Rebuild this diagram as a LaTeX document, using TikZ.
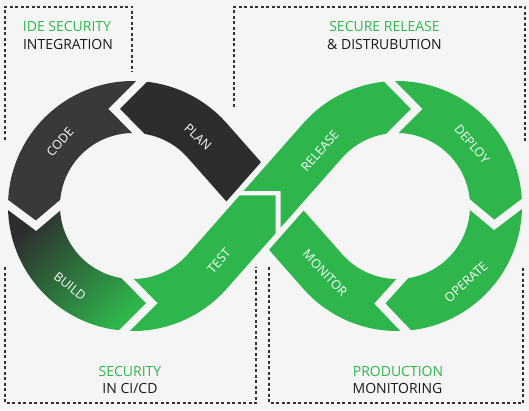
\documentclass[tikz,border=0pt]{standalone}
\usepackage{fontspec}
\setmainfont{Open Sans}
\usetikzlibrary{calc}
\definecolor{bg}{HTML}{F5F5F5}
\definecolor{grn}{HTML}{2EB64C}
\definecolor{dkA}{HTML}{2D2D2D}
\definecolor{dkB}{HTML}{39393B}
\definecolor{ink}{HTML}{1A1A1A}
\definecolor{dashc}{HTML}{333333}
\begin{document}
\begin{tikzpicture}[x=1pt,y=1pt,
  sepline/.style={draw=bg, line width=8pt, shorten <=-12pt, shorten >=-12pt, line join=miter},
  lbl/.style={text=white, inner sep=0pt, font=\fontsize{12.5}{13}\selectfont},
  ttl/.style={text=grn, anchor=base, inner sep=0pt, font=\fontsize{14}{16}\selectfont},
  sub/.style={text=ink, anchor=base, inner sep=0pt, font=\fontsize{14}{16}\selectfont},
  boxline/.style={draw=dashc, line width=1.2pt, dash pattern=on 3pt off 2.5pt}]

\fill[bg] (0,0) rectangle (529,410);
\useasboundingbox (0,0) rectangle (529,410);

\coordinate (L) at (133,204);
\coordinate (R) at (397,204);
\coordinate (C) at (265,204);

% cap lines at the crossing
\coordinate (capP1) at ($(C)+(138.59:32)$);
\coordinate (capP2) at ($(capP1)+(48.59:60)$);
\coordinate (capM1) at ($(C)+(-41.41:32)$);
\coordinate (capM2) at ($(capM1)+(48.59:60)$);

% PLAN strip edges
\coordinate (Lo) at ($(L)+(41.41:125)$);
\coordinate (Lo2) at ($(Lo)+(-48.59:120)$);
\coordinate (Li) at ($(L)+(41.41:73)$);
\coordinate (Li2) at ($(Li)+(-48.59:120)$);

% TEST strip edges
\coordinate (To) at ($(L)+(-41.41:125)$);
\coordinate (To2) at ($(To)+(48.59:150)$);
\coordinate (Ti) at ($(L)+(-41.41:73)$);
\coordinate (Ti2) at ($(Ti)+(48.59:150)$);
\coordinate (Tt) at (275.5,214.5);
\coordinate (Tv) at (275.5,100);
\coordinate (Th) at (150,214.5);

% RELEASE strip edges
\coordinate (Ro) at ($(R)+(138.59:125)$);
\coordinate (Ro2) at ($(Ro)+(228.59:150)$);
\coordinate (Ri) at ($(R)+(138.59:73)$);
\coordinate (Ri2) at ($(Ri)+(228.59:150)$);
\coordinate (Rn) at (280.5,219);
\coordinate (Rv) at (280.5,100);
\coordinate (Rh) at (150,219);

% MONITOR strip edges
\coordinate (Mo) at ($(R)+(221.41:125)$);
\coordinate (Mo2) at ($(Mo)+(131.41:150)$);
\coordinate (Mi) at ($(R)+(221.41:73)$);
\coordinate (Mi2) at ($(Mi)+(131.41:150)$);

% ---------- left loop ----------
% PLAN
\fill[dkA] (intersection of Lo--Lo2 and capP1--capP2) -- (Lo)
  arc[start angle=41.41, end angle=86, radius=125pt]
  -- ($(L)+(101:99)$) -- ($(L)+(86:73)$)
  arc[start angle=86, end angle=41.41, radius=73pt]
  -- (intersection of Li--Li2 and capP1--capP2) -- cycle;
% CODE
\fill[dkB] ($(L)+(86:73)$) -- ($(L)+(101:99)$) -- ($(L)+(86:125)$)
  arc[start angle=86, end angle=179.5, radius=125pt]
  -- ($(L)+(191.5:99)$) -- ($(L)+(179.5:73)$)
  arc[start angle=179.5, end angle=86, radius=73pt] -- cycle;
% BUILD
\shade[top color=dkA, middle color=grn!35!dkA, bottom color=grn, shading angle=45]
  ($(L)+(179.5:73)$) -- ($(L)+(191.5:99)$) -- ($(L)+(179.5:125)$)
  arc[start angle=179.5, end angle=266, radius=125pt]
  -- ($(L)+(281:99)$) -- ($(L)+(266:73)$)
  arc[start angle=266, end angle=179.5, radius=73pt] -- cycle;
% TEST
\fill[grn] ($(L)+(266:73)$) -- ($(L)+(281:99)$) -- ($(L)+(266:125)$)
  arc[start angle=266, end angle=318.59, radius=125pt]
  -- (intersection of To--To2 and Tt--Tv) -- (Tt)
  -- (intersection of Ti--Ti2 and Tt--Th) -- (Ti)
  arc[start angle=318.59, end angle=266, radius=73pt] -- cycle;

% ---------- right loop ----------
% RELEASE
\fill[grn] (intersection of Ro--Ro2 and Rn--Rh) -- (Rn)
  -- (intersection of Ri--Ri2 and Rn--Rv) -- (Ri)
  arc[start angle=138.59, end angle=93.5, radius=73pt]
  -- ($(R)+(78.5:99)$) -- ($(R)+(93.5:125)$)
  arc[start angle=93.5, end angle=138.59, radius=125pt] -- cycle;
% DEPLOY
\fill[grn] ($(R)+(93.5:73)$) -- ($(R)+(78.5:99)$) -- ($(R)+(93.5:125)$)
  arc[start angle=93.5, end angle=1, radius=125pt]
  -- ($(R)+(-11:99)$) -- ($(R)+(1:73)$)
  arc[start angle=1, end angle=93.5, radius=73pt] -- cycle;
% OPERATE
\fill[grn] ($(R)+(1:73)$) -- ($(R)+(-11:99)$) -- ($(R)+(1:125)$)
  arc[start angle=1, end angle=-86, radius=125pt]
  -- ($(R)+(-100:99)$) -- ($(R)+(-86:73)$)
  arc[start angle=-86, end angle=1, radius=73pt] -- cycle;
% MONITOR
\fill[grn] ($(R)+(-86:73)$) -- ($(R)+(-100:99)$) -- ($(R)+(-86:125)$)
  arc[start angle=-86, end angle=-138.59, radius=125pt]
  -- (intersection of Mo--Mo2 and capM1--capM2)
  -- (intersection of Mi--Mi2 and capM1--capM2) -- (Mi)
  arc[start angle=-138.59, end angle=-86, radius=73pt] -- cycle;

% ---------- separators ----------
\draw[sepline] ($(L)+(86:125)$) -- ($(L)+(101:99)$) -- ($(L)+(86:73)$);
\draw[sepline] ($(L)+(179.5:125)$) -- ($(L)+(191.5:99)$) -- ($(L)+(179.5:73)$);
\draw[sepline] ($(L)+(266:125)$) -- ($(L)+(281:99)$) -- ($(L)+(266:73)$);
\draw[sepline] ($(R)+(93.5:125)$) -- ($(R)+(78.5:99)$) -- ($(R)+(93.5:73)$);
\draw[sepline] ($(R)+(1:125)$) -- ($(R)+(-11:99)$) -- ($(R)+(1:73)$);
\draw[sepline] ($(R)+(-86:125)$) -- ($(R)+(-100:99)$) -- ($(R)+(-86:73)$);

% ---------- band labels ----------
\node[lbl, rotate=49] (tCode) at (60,268) {CODE};
\node[lbl, rotate=-43] (tPlan) at (198,273) {PLAN};
\node[lbl, rotate=-38] (tBuild) at (70,124) {BUILD};
\node[lbl, rotate=48.6] (tTest) at (219,149) {TEST};
\node[lbl, rotate=48.6] (tRelease) at (320,259) {RELEASE};
\node[lbl, rotate=-50] (tDeploy) at (472,266) {DEPLOY};
\node[lbl, rotate=42] (tOperate) at (466,128) {OPERATE};
\node[lbl, rotate=-47] (tMonitor) at (325,137) {MONITOR};

% ---------- dashed boxes ----------
\draw[boxline] (5,270) -- (5,403) -- (132,403) -- (132,338);
\draw[boxline] (234,303) -- (234,403) -- (525,403) -- (525,268);
\draw[boxline] (5,143) -- (5,7) -- (256,7) -- (256,143);
\draw[boxline] (269,143) -- (269,7) -- (523,7) -- (523,143);

% ---------- titles ----------
\node[ttl] (h1) at (67,378) {IDE SECURITY};
\node[sub] (s1) at (68,360) {INTEGRATION};
\node[ttl] (h2) at (384.5,378) {SECURE RELEASE};
\node[sub] (s2) at (384.5,360) {\& DISTRUBUTION};
\node[ttl] (h3) at (130,34) {SECURITY};
\node[sub] (s3) at (130,17) {IN CI/CD};
\node[ttl] (h4) at (398,34) {PRODUCTION};
\node[sub] (s4) at (397.5,17) {MONITORING};
\end{tikzpicture}
\end{document}
